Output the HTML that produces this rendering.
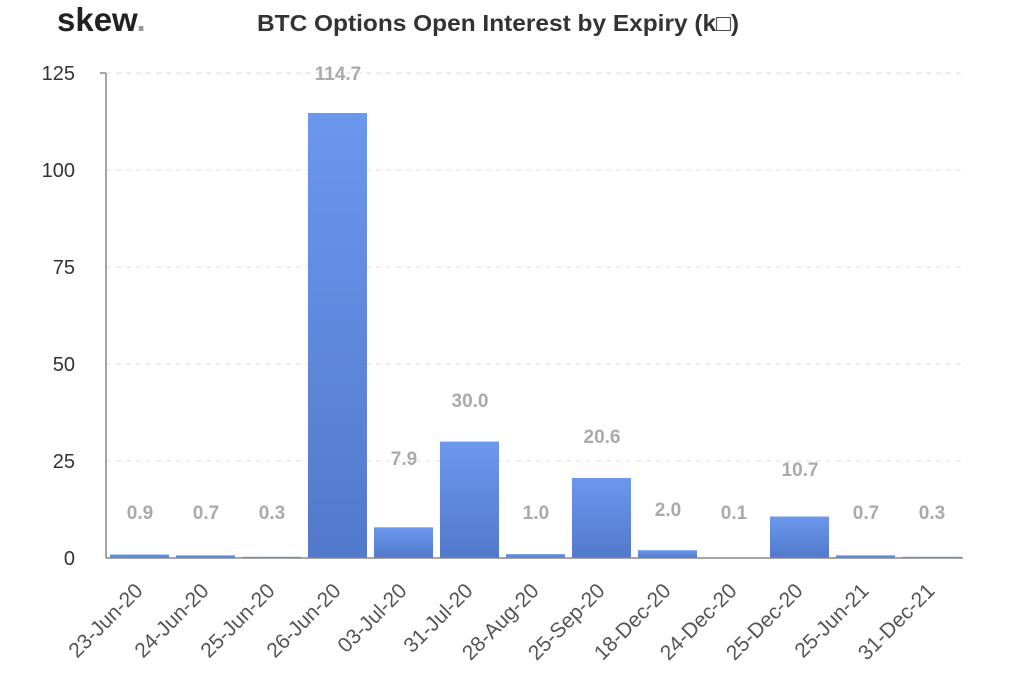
<!DOCTYPE html>
<html><head><meta charset="utf-8"><style>html,body{margin:0;padding:0;background:#fff}</style></head>
<body>
<svg width="1024" height="678" xmlns="http://www.w3.org/2000/svg" font-family="Liberation Sans, Arial, sans-serif">
<defs><linearGradient id="g" x1="0" y1="0" x2="0" y2="1"><stop offset="0" stop-color="#6b98ec"/><stop offset="1" stop-color="#5279cb"/></linearGradient></defs>
<text x="57" y="31" font-size="33" font-weight="bold" fill="#222">skew<tspan fill="#999">.</tspan></text>
<text x="498" y="31" font-size="23" font-weight="bold" fill="#333" text-anchor="middle" textLength="482" lengthAdjust="spacingAndGlyphs">BTC Options Open Interest by Expiry (k□)</text>
<g stroke="#ddd" stroke-dasharray="5,5" stroke-width="1">
<line x1="106" y1="73" x2="963" y2="73"/><line x1="106" y1="170" x2="963" y2="170"/><line x1="106" y1="267" x2="963" y2="267"/><line x1="106" y1="364" x2="963" y2="364"/><line x1="106" y1="461" x2="963" y2="461"/>
</g>
<g font-size="20" fill="#333" text-anchor="end">
<text x="75" y="80">125</text><text x="75" y="177">100</text><text x="75" y="274">75</text><text x="75" y="371">50</text><text x="75" y="468">25</text><text x="75" y="565">0</text>
</g>
<g fill="url(#g)">
<rect x="110" y="554.5" width="59" height="3.5"/>
<rect x="176" y="555.3" width="59" height="2.7"/>
<rect x="242" y="556.8" width="59" height="1.2"/>
<rect x="308" y="113" width="59" height="445"/>
<rect x="374" y="527.3" width="59" height="30.7"/>
<rect x="440" y="441.6" width="59" height="116.4"/>
<rect x="506" y="554.1" width="59" height="3.9"/>
<rect x="572" y="478" width="59" height="80"/>
<rect x="638" y="550.2" width="59" height="7.8"/>
<rect x="704" y="557.6" width="59" height="0.4"/>
<rect x="770" y="516.5" width="59" height="41.5"/>
<rect x="836" y="555.3" width="59" height="2.7"/>
<rect x="902" y="556.8" width="59" height="1.2"/>
</g>
<line x1="106" y1="73" x2="106" y2="558" stroke="#888" stroke-width="1.5"/>
<line x1="100" y1="73" x2="106" y2="73" stroke="#888" stroke-width="1.5"/>
<line x1="106" y1="558" x2="963" y2="558" stroke="#888" stroke-width="1.5"/>
<g font-size="19" font-weight="bold" fill="#aaa" text-anchor="middle">
<text x="140" y="519">0.9</text><text x="206" y="519">0.7</text><text x="272" y="519">0.3</text>
<text x="338" y="80">114.7</text><text x="404" y="465">7.9</text><text x="470" y="407">30.0</text>
<text x="536" y="519">1.0</text><text x="602" y="443">20.6</text><text x="668" y="516">2.0</text>
<text x="734" y="519">0.1</text><text x="800" y="476">10.7</text><text x="866" y="519">0.7</text><text x="932" y="519">0.3</text>
</g>
<g font-size="21" fill="#555" text-anchor="end">
<text transform="translate(144,592) rotate(-45)">23-Jun-20</text>
<text transform="translate(210,592) rotate(-45)">24-Jun-20</text>
<text transform="translate(276,592) rotate(-45)">25-Jun-20</text>
<text transform="translate(342,592) rotate(-45)">26-Jun-20</text>
<text transform="translate(408,592) rotate(-45)">03-Jul-20</text>
<text transform="translate(474,592) rotate(-45)">31-Jul-20</text>
<text transform="translate(540,592) rotate(-45)">28-Aug-20</text>
<text transform="translate(606,592) rotate(-45)">25-Sep-20</text>
<text transform="translate(672,592) rotate(-45)">18-Dec-20</text>
<text transform="translate(738,592) rotate(-45)">24-Dec-20</text>
<text transform="translate(804,592) rotate(-45)">25-Dec-20</text>
<text transform="translate(870,592) rotate(-45)">25-Jun-21</text>
<text transform="translate(936,592) rotate(-45)">31-Dec-21</text>
</g>
</svg>
</body></html>
